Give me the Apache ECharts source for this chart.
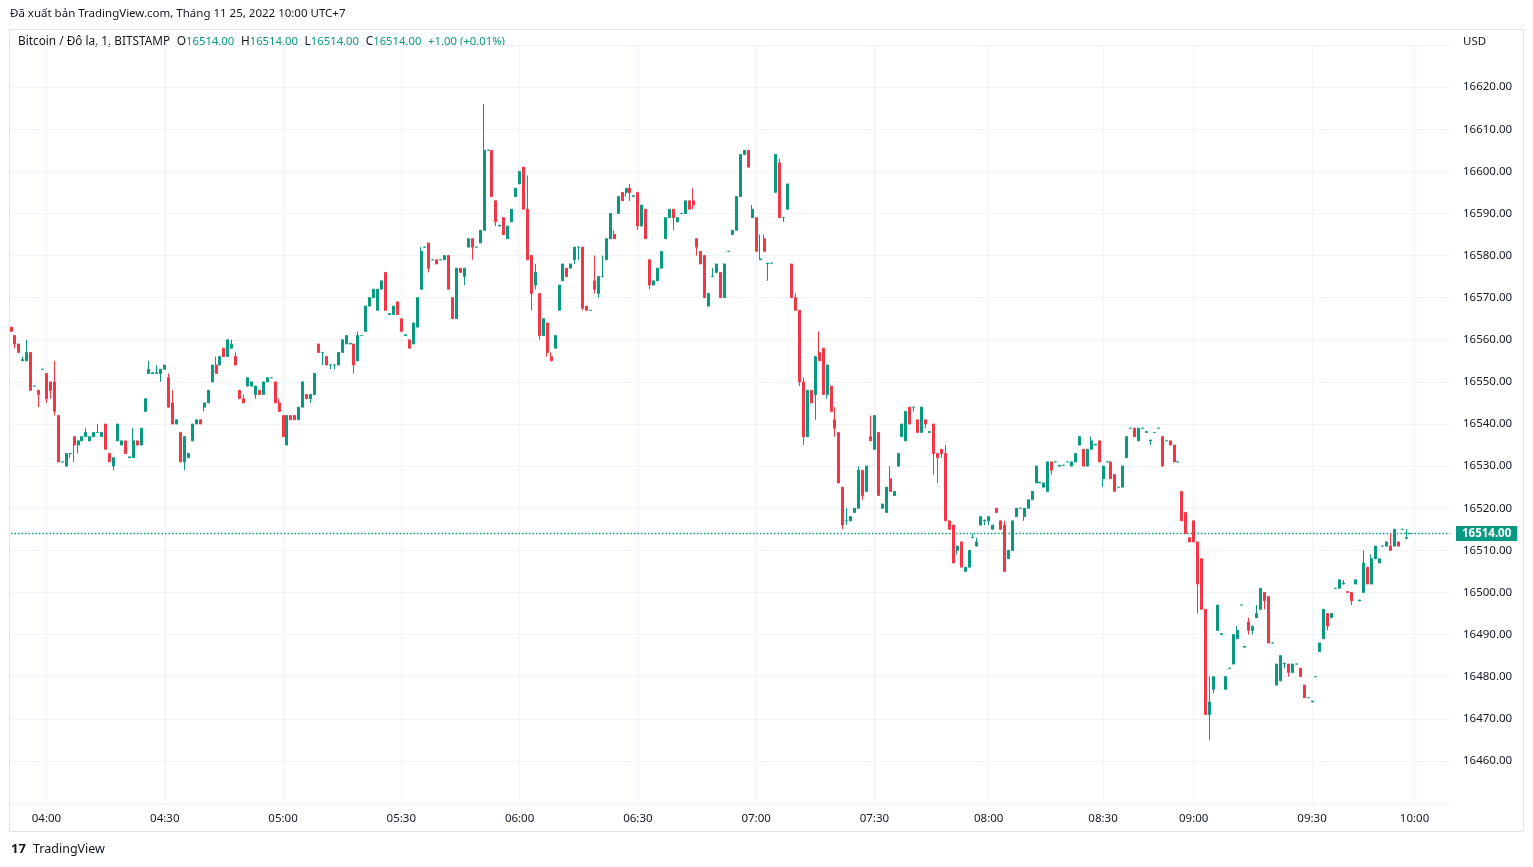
<!DOCTYPE html>
<html>
<head>
<meta charset="utf-8">
<title>Bitcoin / Đô la, 1, BITSTAMP</title>
<script src="https://cdn.jsdelivr.net/npm/echarts@6/dist/echarts.min.js"></script>
<style>
  html, body { margin: 0; padding: 0; background: #ffffff; }
  #chart { width: 1533px; height: 867px; }
</style>
</head>
<body>
<div id="chart"></div>
<script>
// nến 1 phút, BITSTAMP BTC/USD, 25/11/2022 (ước lượng từ ảnh)
var opens = [
  16563,16561,16559,16555,16555,16557,16549,16548,16553,16552,
  16550,16550,16542,16531,16530,16533,16537,16535,16536,16537,
  16536,16537,16538,16537,16540,16533,16530,16536,16535,16536,
  16532,16532,16536,16535,16543,16552,16552,16552,16552,16553,
  16551,16545,16540,16538,16531,16532,16536,16540,16541,16544,
  16545,16550,16554,16554,16558,16556,16558,16556,16548,16546,
  16549,16549,16547,16548,16547,16550,16551,16550,16545,16542,
  16535,16542,16542,16541,16544,16547,16546,16547,16559,16557,
  16556,16554,16554,16554,16557,16559,16559,16559,16555,16561,
  16562,16568,16570,16567,16572,16576,16566,16566,16569,16565,
  16561,16560,16559,16563,16572,16582,16583,16579,16579,16579,
  16579,16580,16570,16565,16577,16575,16582,16584,16582,16583,
  16586,16605,16605,16593,16587,16589,16584,16588,16594,16597,
  16601,16591,16580,16573,16571,16561,16564,16556,16558,16567,
  16574,16577,16577,16579,16582,16582,16568,16567,16574,16571,
  16575,16579,16584,16585,16590,16595,16595,16596,16594,16595,
  16587,16591,16579,16573,16574,16577,16584,16589,16591,16588,
  16590,16590,16593,16593,16584,16581,16580,16568,16575,16576,
  16576,16570,16581,16585,16586,16594,16604,16605,16589,16589,
  16579,16584,16578,16578.2,16595,16602,16589,16591,16578,16570,
  16567,16550,16537,16548,16547,16557,16558,16547,16549,16541,
  16538,16525,16517,16517,16519,16520,16529,16524,16537,16534,
  16538,16520,16519,16527,16523,16530,16537,16536,16544,16544,
  16541,16538,16541,16538,16540,16533,16534,16533,16517,16516,
  16510,16512,16505,16506,16513,16511,16516,16517,16517,16515,
  16520,16517,16516,16508,16510,16518,16520,16518,16520,16522,
  16526,16526,16525,16524,16531,16531,16530,16530.2,16531,16530,
  16531,16535,16534,16530,16534,16535,16536,16527,16531,16531,
  16528,16525,16525,16532,16539,16539,16536,16539,16538,16536,
  16538,16539,16537,16536,16536,16535,16531,16524,16519,16513,
  16517,16512,16508,16496,16471,16477,16491,16490,16477,16482,
  16483,16489,16497,16487,16493,16491,16494,16496,16500,16499,
  16488,16478,16479,16483,16483,16481,16483,16482,16478,16475,
  16474,16480,16486,16489,16495,16494,16501,16501,16502,16500.2,
  16500,16502,16498,16500,16506,16502,16508,16507,16511,16511,
  16511,16511,16512,16515,16512.8,16514
];
var highs = [
  16563,16561,16559,16556,16560,16557,16549,16548,16553,16552,
  16550,16555,16542,16531,16533,16533,16537,16536,16537,16539,
  16537,16538,16540,16538,16540,16533,16532,16540,16536,16536,
  16532.2,16539,16536,16539,16546,16555,16552.2,16554,16553,16554,
  16552,16548,16541,16538,16537,16533,16540,16541,16541,16545,
  16548,16554,16556,16556,16558,16560,16560,16557,16548,16547,
  16551,16550,16549,16548,16550,16551,16551,16550,16546,16542,
  16542,16542,16542,16544,16550,16547,16547,16552,16559,16557,
  16556,16554,16554,16557,16560,16561,16559.2,16559,16562,16561,
  16568,16570,16572,16572,16574,16576,16566.2,16568,16569,16565,
  16561.2,16560,16564,16570,16582,16582,16583,16579,16579,16579,
  16580,16580,16570,16577,16577,16577,16584,16584,16582,16586,
  16616,16605,16605,16593,16587.2,16589,16587,16591,16596,16600,
  16601,16599,16580,16578,16571,16565,16564,16557,16561,16573,
  16578,16577,16578,16582,16582,16582,16568,16567,16580,16575,
  16580,16584,16590,16586,16594,16595,16596,16597,16594.2,16595,
  16592,16591,16579,16574,16577,16581,16589,16591,16591,16589,
  16590,16593,16593,16596,16584,16581,16580,16571,16577,16578,
  16576,16578,16581,16586,16594,16604,16605,16605,16592,16589,
  16585,16585,16578.2,16578.2,16604,16603,16589,16597,16578,16571,
  16567,16551,16548,16548,16556,16562,16558,16554,16549,16544,
  16538,16525,16520,16518,16520,16530,16529,16530,16542,16542,
  16538,16521,16525,16530,16524,16533,16540,16543,16544,16544,
  16541,16544,16541,16538.2,16540,16533,16534,16535,16517,16516,
  16511,16512,16506,16510,16514,16513,16518,16517.2,16518,16516,
  16520,16517,16517,16510,16517,16520,16520,16520,16522,16524,
  16530,16526.2,16526,16531,16531,16531,16530.2,16530.2,16531,16531,
  16533,16537,16534,16534,16537,16535.2,16536,16530,16531,16531,
  16528,16525,16530,16537,16539,16539,16539,16539,16538.2,16536.2,
  16538,16539,16537,16536,16536,16535,16531,16524,16519,16513,
  16517,16512,16508,16496,16480,16480,16497,16490.2,16480,16482,
  16490,16492,16497,16487.2,16494,16492,16497,16501,16500,16499,
  16488,16483,16485,16483.2,16483,16483,16483,16482,16478,16475,
  16474.2,16480,16488,16496,16495,16495,16501,16503,16503,16500.2,
  16500,16503,16498.2,16510,16506,16509,16511,16508,16511,16512,
  16514,16515,16512,16515,16515,16514
];
var lows = [
  16562,16558,16557,16555,16555,16548,16549,16544,16553,16545,
  16546,16542,16531,16531,16530,16532,16531,16533,16536,16537,
  16536,16537,16538,16537,16534,16531,16529,16536,16535,16533,
  16532,16532,16535,16535,16543,16552,16552,16552,16550,16553,
  16544,16540,16540,16531,16529,16532,16536,16540,16540,16543,
  16545,16550,16552,16554,16556,16556,16558,16554,16546,16545,
  16549,16549,16546,16547,16547,16550,16551,16545,16543,16537,
  16535,16541,16541,16541,16544,16546,16545,16547,16557,16554,
  16554,16553,16553,16554,16557,16559,16559,16552,16555,16561,
  16562,16568,16570,16567,16572,16567,16566,16566,16566,16562,
  16561,16558,16559,16563,16572,16582,16576,16579,16578,16579,
  16579,16572,16565,16565,16576,16573,16582,16579,16582,16583,
  16586,16605,16594,16587,16587,16585,16584,16588,16594,16597,
  16591,16579,16567,16572,16560,16561,16556,16555,16558,16567,
  16574,16575,16577,16578,16579,16567,16567,16567,16571,16570,
  16575,16579,16584,16584,16590,16593,16594,16593,16594,16586,
  16587,16584,16572,16573,16574,16577,16584,16589,16586,16588,
  16590,16590,16591,16591,16580,16578,16570,16568,16575,16576,
  16570,16570,16581,16585,16586,16594,16604,16601,16589,16581,
  16579,16581,16574,16578.2,16595,16589,16588,16591,16570,16567,
  16549,16535,16537,16545,16541,16555,16547,16546,16543,16537,
  16526,16515,16516,16517,16519,16520,16522,16524,16536,16534,
  16523,16520,16519,16524,16523,16530,16537,16536,16540,16543,
  16538,16538,16539,16538,16528,16526,16532,16517,16515,16507,
  16509,16506,16505,16506,16513,16511,16516,16516,16516,16515,
  16519,16515,16505,16508,16510,16518,16520,16517,16520,16522,
  16526,16526,16525,16524,16528,16531,16530,16530.2,16531,16530,
  16531,16535,16530,16530,16534,16535,16531,16525,16531,16527,
  16524,16525,16525,16532,16539,16537,16536,16539,16538,16535,
  16538,16539,16530,16536,16535,16531,16531,16517,16514,16512,
  16512,16495,16496,16471,16465,16476,16491,16490,16477,16482,
  16483,16489,16497,16487,16490,16490,16494,16496,16496,16488,
  16488,16478,16479,16482,16480,16481,16483,16480,16475,16475,
  16474,16480,16486,16489,16491,16494,16501,16501,16502,16500,
  16497,16502,16498,16500,16502,16502,16508,16507,16511,16511,
  16510,16511,16511,16515,16512.8,16514
];
var closes = [
  16562,16559,16557,16555.3,16557,16548,16549,16547,16553,16546,
  16548,16543,16531,16531,16533,16533,16535,16536,16537,16538,
  16537,16538,16538,16538,16534,16531,16532,16540,16536,16533,
  16532.2,16536,16535,16539,16546,16553,16552.2,16552.2,16553,16554,
  16544,16540,16541,16531,16537,16533,16540,16541,16540,16545,
  16548,16554,16552,16556,16556,16560,16559,16554,16546,16545,
  16551,16550,16549,16547,16550,16551,16551,16545,16543,16537,
  16542,16541,16541,16544,16550,16546,16547,16552,16557,16557,
  16554,16554,16554,16557,16560,16561,16559.2,16554,16561,16561,
  16568,16570,16572,16572,16574,16567,16566.2,16568,16566,16562,
  16561.2,16558,16564,16570,16581,16582,16577,16579,16578,16579,
  16580,16572,16565,16577,16576,16577,16584,16582,16582,16586,
  16605,16605,16594,16588,16587.2,16585,16587,16591,16596,16600,
  16591,16579,16571,16576,16561,16565,16557,16555,16561,16573,
  16578,16575,16578,16582,16582,16567.5,16567,16567,16572,16575,
  16575,16584,16590,16584,16594,16593,16596,16595,16594.2,16587,
  16592,16584,16573,16574,16577,16581,16589,16591,16589,16589,
  16590,16593,16591,16592,16582,16578,16570,16571,16575,16578,
  16570,16578,16581,16586,16594,16604,16605,16601,16591,16581,
  16579.2,16581,16578.2,16578.2,16604,16589,16589,16597,16570,16567,
  16550,16537,16548,16545,16556,16555,16547,16554,16543,16539,
  16526,16516,16517,16518,16520,16529,16523,16530,16536,16542,
  16523,16521,16525,16524,16524,16533,16540,16543,16540,16544,
  16538,16544,16540,16538.2,16533,16532,16533,16517,16515,16507,
  16511,16506,16506,16510,16513,16512,16518,16517.2,16518,16516,
  16519,16515,16505,16510,16517,16520,16520,16520,16522,16524,
  16530,16526.2,16526,16531,16529,16531,16530.2,16530.2,16531,16531,
  16533,16537,16530,16534,16536,16535.2,16531,16530,16531,16527,
  16524,16525,16530,16537,16539,16537,16539,16539,16538.2,16536.2,
  16538,16539,16530,16536,16535,16531,16531,16517,16514,16512,
  16512,16502,16496,16471,16474,16480,16497,16490.2,16480,16482,
  16490,16491,16497,16487.2,16491,16492,16495,16501,16498,16488,
  16488,16483,16485,16483.2,16481,16483,16483,16480,16475,16475,
  16474.2,16480,16488,16496,16492,16495,16501,16503,16502.2,16500,
  16498,16503,16498.2,16507,16502,16508,16511,16508,16511,16512,
  16510,16515,16511,16515,16513,16514
];

var tickIdx = [9, 39, 69, 99, 129, 159, 189, 219, 248, 277, 300, 330, 356];
var tickText = ['04:00','04:30','05:00','05:30','06:00','06:30','07:00','07:30','08:00','08:30','09:00','09:30','10:00'];
var slotCount = 366;

var candles = opens.map(function (o, i) {
  return [o, closes[i], lows[i], highs[i]];
});
var cats = [];
for (var i = 0; i < slotCount; i++) cats.push(String(i));

var last = candles.length - 1;
var lastPx = closes[last].toFixed(2);
var chg = closes[last] - closes[last - 1];
// đường giá hiện tại chạy suốt chiều ngang
var priceLine = cats.map(function () { return closes[last]; });

var UP = '#089981', DOWN = '#F23645', TXT = '#131722';
var FONT = '"Noto Sans", "DejaVu Sans", sans-serif';

var chart = echarts.init(document.getElementById('chart'));
chart.setOption({
  animation: false,
  backgroundColor: '#ffffff',
  textStyle: { fontFamily: FONT },
  grid: { left: 11, right: 83, top: 45, bottom: 64 },
  xAxis: {
    type: 'category',
    data: cats,
    boundaryGap: false,
    axisLine: { show: false },
    axisTick: { show: false },
    axisLabel: {
      interval: function (idx) { return tickIdx.indexOf(idx) >= 0; },
      formatter: function (v, idx) {
        var k = tickIdx.indexOf(idx);
        return k >= 0 ? tickText[k] : '';
      },
      color: TXT, fontSize: 11.5, margin: 10, fontFamily: FONT
    },
    splitLine: {
      show: true,
      interval: function (idx) { return tickIdx.indexOf(idx) >= 0; },
      lineStyle: { color: '#f0f3fa', width: 1 }
    }
  },
  yAxis: {
    type: 'value',
    position: 'right',
    scale: true,
    min: 16450,
    max: 16630,
    interval: 10,
    axisLine: { show: false },
    axisTick: { show: false },
    axisLabel: {
      color: TXT, fontSize: 11.5, margin: 13, fontFamily: FONT,
      formatter: function (v) {
        if (v >= 16630 || v <= 16450) return '';
        return v.toFixed(2);
      }
    },
    splitLine: { lineStyle: { color: '#f0f3fa', width: 1 } }
  },
  series: [
    {
      type: 'line',
      data: priceLine,
      symbol: 'none',
      silent: true,
      z: 1,
      lineStyle: { color: UP, type: [1.5, 2], width: 1.5 },
      itemStyle: { color: UP },
      endLabel: {
        show: true,
        distance: 6,
        formatter: lastPx,
        backgroundColor: UP,
        color: '#ffffff',
        fontWeight: 'bold',
        fontSize: 11.5,
        fontFamily: FONT,
        padding: [2, 6, 1, 6]
      }
    },
    {
      type: 'candlestick',
      data: candles,
      barWidth: 2.5,
      z: 2,
      itemStyle: {
        color: UP, color0: DOWN,
        borderColor: UP, borderColor0: DOWN,
        borderWidth: 1
      }
    }
  ],
  graphic: [
    {
      type: 'rect', silent: true, z: -1,
      shape: { x: 9.5, y: 29.5, width: 1514, height: 802 },
      style: { fill: 'none', stroke: '#e0e3eb', lineWidth: 1 }
    },
    {
      type: 'text', left: 10, top: 8,
      style: {
        text: 'Đã xuất bản TradingView.com, Tháng 11 25, 2022 10:00 UTC+7',
        fill: TXT, font: '11.5px ' + FONT
      }
    },
    {
      type: 'text', left: 18, top: 36,
      style: {
        text: '{t|Bitcoin / Đô la, 1, BITSTAMP}  {t|O}{v|' + opens[last].toFixed(2) + '}  {t|H}{v|' + highs[last].toFixed(2) +
              '}  {t|L}{v|' + lows[last].toFixed(2) + '}  {t|C}{v|' + closes[last].toFixed(2) + '}  {v|+' + chg.toFixed(2) +
              ' (+' + (chg / closes[last - 1] * 100).toFixed(2) + '%)}',
        rich: {
          t: { fill: TXT, font: '11.8px ' + FONT },
          v: { fill: UP, font: '11.3px ' + FONT }
        }
      }
    },
    {
      type: 'text', left: 1463, top: 36,
      style: { text: 'USD', fill: TXT, font: '11.5px ' + FONT }
    },
    {
      type: 'text', left: 11, top: 843,
      style: { text: '17', fill: TXT, font: 'bold 13px ' + FONT }
    },
    {
      type: 'text', left: 33, top: 843,
      style: { text: 'TradingView', fill: TXT, font: '12.5px ' + FONT }
    }
  ]
});
</script>
</body>
</html>
